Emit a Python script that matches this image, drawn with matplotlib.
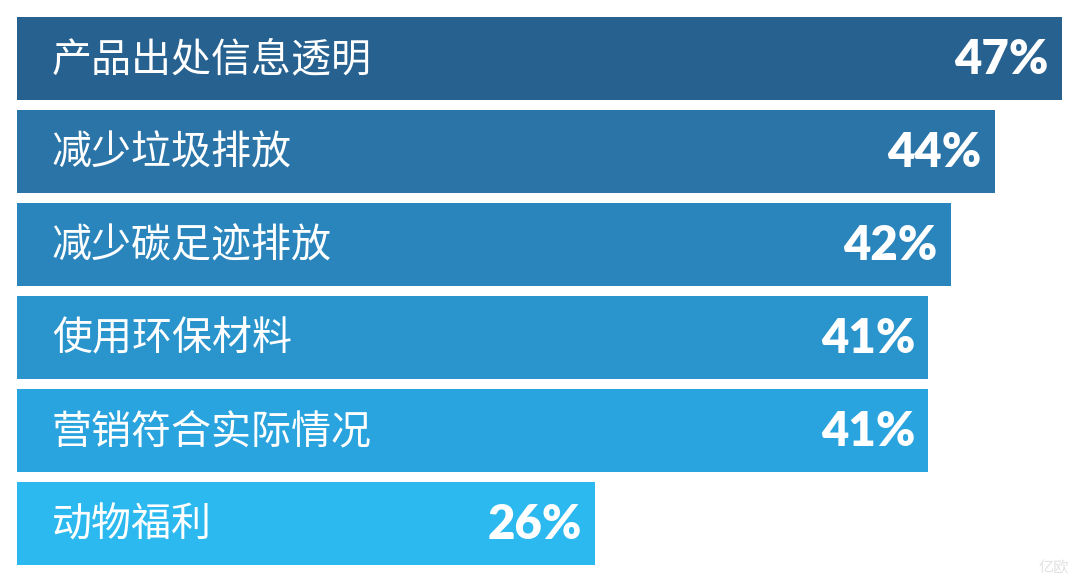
import matplotlib.pyplot as plt

plt.rcParams['font.family'] = ['Noto Sans CJK SC', 'DejaVu Sans']

# data
categories = ["产品出处信息透明", "减少垃圾排放", "减少碳足迹排放", "使用环保材料", "营销符合实际情况", "动物福利"]
values = [47, 44, 42, 41, 41, 26]
colors = ["#26618f", "#2a74a7", "#2a85bc", "#2a94cd", "#2aa4de", "#2cb9f0"]

fig = plt.figure(figsize=(10.8, 5.85), dpi=100)
ax = fig.add_axes([0, 0, 1, 1])

ypos = list(range(len(values)))
ax.barh(ypos, values, height=0.892, color=colors, left=0)

# labels inside bars
for y, cat, v in zip(ypos, categories, values):
    ax.text(1.57, y + 0.02, cat, color="white", fontsize=28.8, va="center", ha="left")
    ax.text(v - 0.6, y + 0.02, f"{v}%", color="white", fontsize=34, fontweight="heavy",
            va="center", ha="right", family=["Lato", "DejaVu Sans"])

# watermark
ax.text(0.99, 0.015, "亿欧", transform=ax.transAxes, color="#e2e2e2", fontsize=11,
        ha="right", va="bottom")

ax.set_xlim(-17 / 22.23, (1080 - 17) / 22.23)
ax.set_ylim(-0.629 + 585 / 93, -0.629)
ax.axis("off")

fig.savefig("out.png", dpi=100)
